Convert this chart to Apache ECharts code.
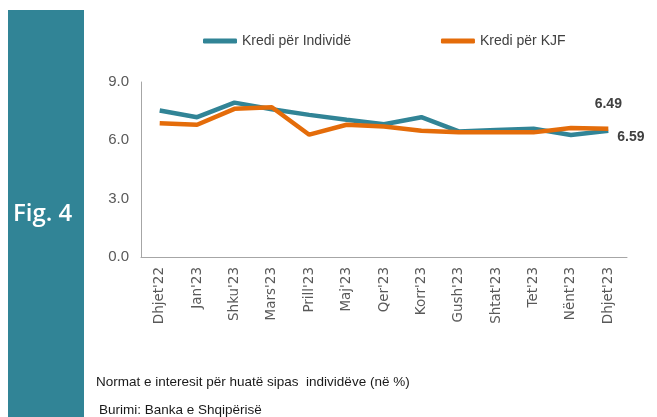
<!DOCTYPE html>
<html><head><meta charset="utf-8">
<script src="https://cdn.jsdelivr.net/npm/echarts@6/dist/echarts.min.js"></script>
<style>html,body{margin:0;padding:0;background:#fff}#c{width:657px;height:417px}</style>
</head><body><div id="c"></div>
<script>
var categories = ["Dhjet'22","Jan'23","Shku'23","Mars'23","Prill'23","Maj'23","Qer'23","Korr'23","Gush'23","Shtat'23","Tet'23","Nënt'23","Dhjet'23"];
var individe = [7.53,7.19,7.94,7.60,7.31,7.06,6.83,7.19,6.46,6.53,6.60,6.27,6.49];
var kjf = [6.88,6.80,7.62,7.70,6.29,6.80,6.71,6.49,6.41,6.41,6.41,6.63,6.59];
var yTicks = [0,3,6,9];
var FONT = "'Liberation Sans',Arial,sans-serif";
var chart = echarts.init(document.getElementById('c'));
function endLabel(p){ return p.dataIndex === categories.length-1 ? Number(p.value).toFixed(2) : ''; }
chart.setOption({
  animation:false,
  graphic:[
    {type:'rect',shape:{x:8,y:10,width:76,height:407},style:{fill:'#318496'}},
    {type:'text',left:13,top:202,style:{text:'Fig. 4',fill:'#fff',font:"600 24px 'Open Sans',sans-serif"}},
    {type:'text',left:96,top:375,style:{text:'Normat e interesit për huatë sipas  individëve (në %)',fill:'#1a1a1a',font:'13.5px '+FONT}},
    {type:'text',left:99,top:403,style:{text:'Burimi: Banka e Shqipërisë',fill:'#1a1a1a',font:'13.5px '+FONT}}
  ],
  legend:{top:34,left:203,padding:0,itemGap:90,itemWidth:34,itemHeight:5,icon:'roundRect',
    textStyle:{fontFamily:FONT,fontSize:14,color:'#404040'},
    data:['Kredi për Individë','Kredi për KJF']},
  grid:{left:141,right:30,top:82,bottom:160},
  xAxis:{type:'category',data:categories,boundaryGap:true,
    axisLine:{lineStyle:{color:'#a6a6a6',width:1}},axisTick:{show:false},
    axisLabel:{rotate:90,interval:0,fontFamily:"'DejaVu Sans',sans-serif",fontSize:13.5,color:'#595959',margin:10}},
  yAxis:{type:'value',min:0,max:9,interval:3,
    axisLine:{show:true,lineStyle:{color:'#a6a6a6',width:1}},axisTick:{show:false},splitLine:{show:false},
    axisLabel:{formatter:function(v){return yTicks.indexOf(v)>=0?v.toFixed(1):'';},fontFamily:FONT,fontSize:15,color:'#595959',margin:12}},
  series:[
    {name:'Kredi për Individë',type:'line',data:individe,symbol:'circle',symbolSize:0,showSymbol:true,smooth:false,
      lineStyle:{color:'#318496',width:4.5},itemStyle:{color:'#318496'},z:2,
      label:{show:true,position:'top',distance:20,formatter:endLabel,fontFamily:FONT,fontWeight:'bold',fontSize:14,color:'#404040'},
      labelLayout:{hideOverlap:false}},
    {name:'Kredi për KJF',type:'line',data:kjf,symbol:'circle',symbolSize:0,showSymbol:true,smooth:false,
      lineStyle:{color:'#e46c0a',width:4.5},itemStyle:{color:'#e46c0a'},z:3,
      label:{show:true,position:'right',distance:9,formatter:endLabel,fontFamily:FONT,fontWeight:'bold',fontSize:14,color:'#404040'},
      labelLayout:{hideOverlap:false,dy:8}}
  ]
});
</script></body></html>
